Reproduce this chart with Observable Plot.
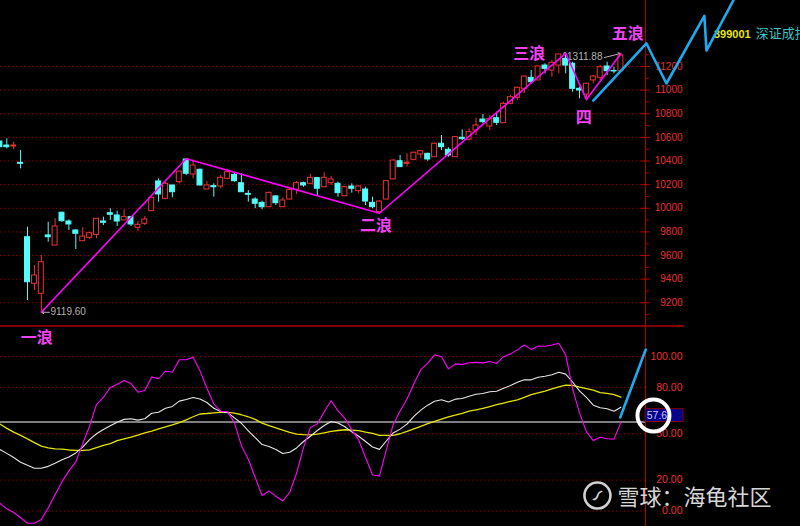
<!DOCTYPE html>
<html>
<head>
<meta charset="utf-8">
<script src="https://cdn.jsdelivr.net/npm/d3@7"></script>
<script src="https://cdn.jsdelivr.net/npm/@observablehq/plot@0.6"></script>
<style>
html, body { margin: 0; padding: 0; background: #000; }
#wrap { position: relative; width: 800px; height: 526px; background: #000; overflow: hidden; }
#legend { position: absolute; left: 714px; top: 23px; white-space: nowrap; line-height: 14px; }
#legend .code { color: #e8e800; font: bold 11px "Liberation Sans", Arial, sans-serif; }
#legend .name { color: #36c6c6; font: 13px "Noto Sans CJK SC", sans-serif; margin-left: 5px; }
#top, #bot { position: absolute; left: 0; }
#top { top: 0; }
#bot { top: 326px; }
svg { overflow: visible; }
</style>
</head>
<body>
<div id="wrap">
  <div id="legend"><span class="code">399001</span><span class="name">深证成指</span></div>
  <div id="top"></div>
  <div id="bot"></div>
</div>
<script>
// ---------------- data ----------------
const opens = [10565,10531,10523,10385,9755,9361,9276,9770,9685,9962,
  9888,9812,9721,9750,9775,9888,9958,9939,9897,9925,
  9835,9869,9975,10227,10080,10193,10221,10413,10286,10326,
  10159,10187,10184,10249,10283,10212,10122,10074,10046,10009,
  10100,10009,10074,10156,10212,10207,10255,10178,10212,10207,
  10102,10184,10145,10159,10046,9967,10074,10244,10398,10376,
  10410,10455,10461,10432,10546,10495,10432,10597,10580,10658,
  10751,10692,10762,10720,10884,10935,11011,11104,11082,11208,
  11166,11208,11265,11223,11011,10963,11082,11104,11200,11162,
  11160];
const closes = [10517,10517,10531,10376,9374,9431,9543,9755,9846,9891,
  9863,9784,9761,9789,9911,9877,9945,9888,9925,9863,
  9860,9905,10089,10117,10207,10136,10311,10292,10362,10193,
  10193,10178,10258,10305,10229,10136,10114,10038,10009,10131,
  10043,10066,10156,10212,10193,10258,10165,10258,10244,10128,
  10178,10165,10184,10057,10009,10057,10229,10404,10348,10385,
  10470,10483,10413,10546,10517,10447,10602,10585,10644,10701,
  10729,10757,10723,10884,10940,11020,11115,11067,11200,11180,
  11231,11302,11208,11011,10997,11054,11115,11194,11160,11158,
  11293];
const highs = [10565,10588,10559,10489,9840,9516,9600,9882,9911,9967,
  9902,9818,9835,9798,9911,9925,9996,9975,9987,9930,
  9888,9930,10089,10249,10221,10193,10311,10419,10410,10330,
  10227,10207,10277,10326,10305,10292,10150,10089,10060,10136,
  10108,10089,10165,10227,10221,10286,10258,10300,10269,10221,
  10178,10207,10193,10178,10094,10066,10235,10410,10447,10461,
  10475,10489,10466,10551,10616,10512,10602,10664,10673,10762,
  10794,10785,10813,10898,10955,11025,11115,11166,11200,11223,
  11251,11302,11311.88,11236,11025,11054,11124,11208,11236,11194,
  11307];
const lows = [10514,10503,10495,10334,9219,9304,9119.6,9713,9685,9882,
  9812,9651,9721,9736,9742,9854,9897,9846,9897,9846,
  9803,9854,9975,10051,10072,10089,10207,10277,10249,10190,
  10159,10094,10165,10241,10221,10136,10051,9996,9987,10009,
  10023,10009,10072,10117,10178,10201,10100,10178,10193,10094,
  10102,10128,10122,10023,9996,9958,10072,10241,10348,10348,
  10404,10419,10398,10432,10489,10432,10432,10574,10568,10616,
  10715,10658,10701,10720,10876,10912,10969,11054,11082,11138,
  11109,11138,11138,10982,10927,10920,11054,11082,11124,11138,
  11152];

// indicator panel (one value per candle)
const jLine = [5,1.4,-1,-4.4,-7.9,-7.9,-5.5,2,10.6,19,
  26,31.8,43.5,55,69,73.5,80,82,84.5,82.5,
  76.9,78,86.8,85.6,90.5,89.8,97.9,97.9,99.5,90.7,
  79.5,69.4,64.6,64.3,57,42.3,33.5,21.7,10,13,
  9.5,6.5,12,24.6,41,54,56.4,64.2,71.4,64.8,
  60,52.5,46,34.6,23.5,22.5,39.5,56,64.7,72.5,
  82.4,91.5,95.7,101.1,99.9,92,95.2,94.9,96,96.2,
  95.9,96.8,95.5,99.9,101.7,104.3,107.4,104.6,106.7,106.6,
  107.4,108.6,101,79,63.5,51.4,45.6,47.7,46.8,46.5,
  57.5];
const kLine = [39.8,37.3,34.6,31.6,29.6,27.7,27.7,28.9,30.9,33.1,
  34.9,37.6,41.3,46.2,50.0,52.8,55.2,57.5,59.3,59.7,
  58.8,59.7,63.3,63.9,66.5,67.7,71.1,72.2,73.5,72.5,
  70.2,66.5,64.4,63.7,60.3,56.8,51.9,47.5,43.0,41.7,
  39.8,37.2,38.0,40.8,45.0,48.4,52.1,55.3,57.9,57.0,
  54.5,51.2,48.4,45.0,41.4,39.9,45.3,50.5,53.0,56.2,
  61.3,65.3,68.5,71.0,72.0,70.6,72.4,72.8,74.3,75.6,
  76.1,77.2,77.5,79.5,81.2,83.3,84.9,84.9,86.6,87.2,
  88.2,89.8,88.6,83.5,77.7,73.5,68.5,66.8,66.2,64.6,
  67.2];
const dLine = [56.3,53.5,51.1,48.9,46.7,44.3,42.0,40.9,40.2,40.0,
  39.5,39.3,39.3,39.6,41.0,42.5,43.6,45.6,46.7,47.8,
  49.1,50.6,51.7,53.2,54.4,55.8,57.2,59.0,61.0,62.8,
  63.1,63.5,63.9,63.9,63.3,62.3,61.0,59.3,56.9,55.3,
  53.8,52.3,50.9,49.8,49.4,49.3,49.8,50.6,51.5,52.1,
  52.6,52.3,52.0,51.0,50.2,49.0,48.9,49.0,50.0,51.5,
  53.2,54.8,56.5,58.0,59.5,60.9,62.0,63.2,64.6,65.5,
  66.5,67.6,68.8,69.9,71.0,72.0,73.5,75.3,76.5,77.6,
  79.0,80.4,81.5,81.3,80.2,79.2,78.2,76.6,76.2,75.3,
  73.7];
const refValue = 57.6;

// tick labels
const priceTicks = [9200,9400,9600,9800,10000,10200,10400,10600,10800,11000,11200];
const priceMinorTicks = [9100,9300,9500,9700,9900,10100,10300,10500,10700,10900,11100,11300];
const indTicks = [100,80,50,20,0];

// wave annotation (hand-drawn)
const waveIdx = [6,27,55,82,85,90];
const wavePrice = [9119.6,10419,9958,11311.88,10920,11307];
const waveLabels = ["一浪","二浪","三浪","四","五浪"];
const waveLabelIdx = [5.33,54.5,76.7,84.6,91.0];
const waveLabelPrice = [8904,9847,11307,10768,11476];
// projected path (cyan)
const projIdx = [86.0,93.7,96.6,102.1,102.4,106.3];
const projPrice = [10912,11395,11056,11629,11335,11759];
const projIndIdx = [89.9,93.6];
const projIndValue = [60.5,104.5];
// extreme labels
const lowLabel = "9119.60", highLabel = "11311.88";

// ---------------- layout ----------------
const X_DOMAIN = [0.087, 116.03];     // candle index at left / right edge of the page
const PRICE_DOMAIN = [8999.3, 11758.6];
const IND_DOMAIN = [-10.03, 119.42];
const AXIS_IDX = 93.57;
const LABEL_IDX = 98.93;
const numFont = "'Liberation Sans', Arial, sans-serif";
const cjkFont = "'Noto Sans CJK SC', sans-serif";
const RED = "#f03434", CYAN = "#54fcfc", AXIS = "#b00000", GRID = "#8c0000";
const MAG = "#ff00ff", LBL = "#f044f0", PROJ = "#1eaaf0";

const candles = opens.map((o, i) => ({i, open: o, close: closes[i], high: highs[i], low: lows[i]}));
const up = candles.filter(d => d.close >= d.open);
const down = candles.filter(d => d.close < d.open);
const wave = waveIdx.map((x, k) => ({x, y: wavePrice[k]}));
const proj = projIdx.map((x, k) => ({x, y: projPrice[k]}));
const labels = waveLabels.map((t, k) => ({t, x: waveLabelIdx[k], y: waveLabelPrice[k]}));
const projInd = projIndIdx.map((x, k) => ({x, y: projIndValue[k]}));
const HW = 0.36;

const topPlot = Plot.plot({
  width: 800, height: 326, margin: 0,
  style: {background: "transparent", overflow: "visible"},
  x: {domain: X_DOMAIN, axis: null},
  y: {domain: PRICE_DOMAIN, axis: null},
  marks: [
    Plot.ruleY(priceTicks, {x1: X_DOMAIN[0], x2: AXIS_IDX, stroke: GRID, strokeDasharray: "1.5 2.5"}),
    Plot.ruleY([PRICE_DOMAIN[0]], {x1: X_DOMAIN[0], x2: 99.2, stroke: AXIS, strokeWidth: 1.5, dy: -0.5}),
    Plot.ruleX([AXIS_IDX], {stroke: AXIS}),
    Plot.ruleY(priceTicks, {x1: 92.99, x2: 94.29, stroke: AXIS}),
    Plot.ruleY(priceMinorTicks, {x1: AXIS_IDX, x2: 94.14, stroke: AXIS}),
    Plot.text(priceTicks, {x: LABEL_IDX, y: d => d, text: d => String(d), textAnchor: "end",
      fill: "#e83030", fontSize: 10, fontFamily: numFont}),
    Plot.text([lowLabel], {x: 7.33, y: 9119.6, text: d => d, textAnchor: "start",
      fill: "#b4b4b4", fontSize: 10, fontFamily: numFont}),
    Plot.text([highLabel], {x: 87.33, y: 11280, text: d => d, textAnchor: "end",
      fill: "#b4b4b4", fontSize: 10, fontFamily: numFont}),
    Plot.arrow([0], {x1: 7.19, y1: 9119.6, x2: 6.03, y2: 9119.6, stroke: "#b4b4b4", headLength: 4, strokeWidth: 1}),
    Plot.arrow([0], {x1: 87.62, y1: 11276, x2: 89.94, y2: 11310, stroke: "#b4b4b4", headLength: 4, strokeWidth: 1}),
    // candles
    Plot.ruleX(up, {x: "i", y1: "low", y2: "high", stroke: RED}),
    Plot.ruleX(down, {x: "i", y1: "low", y2: "high", stroke: CYAN}),
    Plot.rect(up, {x1: d => d.i - HW, x2: d => d.i + HW, y1: "open", y2: "close", fill: "#000", stroke: RED}),
    Plot.rect(down, {x1: d => d.i - HW, x2: d => d.i + HW, y1: "open", y2: "close", fill: CYAN, stroke: CYAN}),
    // wave annotation
    Plot.line(wave, {x: "x", y: "y", stroke: MAG, strokeWidth: 1.6}),
    Plot.text(labels, {x: "x", y: "y", text: "t", fill: LBL, fontSize: 16, fontWeight: "bold", fontFamily: cjkFont}),
    Plot.line(proj, {x: "x", y: "y", stroke: PROJ, strokeWidth: 2.6})
  ]
});
document.getElementById("top").appendChild(topPlot);

const botPlot = Plot.plot({
  width: 800, height: 200, margin: 0,
  style: {background: "transparent", overflow: "visible"},
  x: {domain: X_DOMAIN, axis: null},
  y: {domain: IND_DOMAIN, axis: null},
  marks: [
    Plot.ruleY(indTicks, {x1: X_DOMAIN[0], x2: AXIS_IDX, stroke: GRID, strokeDasharray: "1.5 2.5"}),
    Plot.ruleX([AXIS_IDX], {stroke: AXIS}),
    Plot.ruleY([refValue], {x1: X_DOMAIN[0], x2: AXIS_IDX, stroke: "#a8a8a8", strokeWidth: 1.5}),
    Plot.line(dLine, {x: (d, i) => i, y: d => d, stroke: "#e4e400", strokeWidth: 1.3}),
    Plot.line(kLine, {x: (d, i) => i, y: d => d, stroke: "#e6e6e6", strokeWidth: 1.1}),
    Plot.line(jLine, {x: (d, i) => i, y: d => d, stroke: MAG, strokeWidth: 1.1}),
    Plot.text(indTicks, {x: LABEL_IDX, y: d => d, text: d => d.toFixed(2), textAnchor: "end",
      fill: "#e83030", fontSize: 10.5, fontFamily: numFont}),
    Plot.rect([refValue], {x1: AXIS_IDX, x2: 99.07, y1: d => d, y2: 65.9, fill: "#00008c", stroke: "#8c0000"}),
    Plot.text([refValue], {x: 93.75, y: 61.7, text: d => String(d), textAnchor: "start",
      fill: "#c8c8ff", fontSize: 10.5, fontFamily: numFont}),
    Plot.dot([refValue], {x: 94.72, y: 61.8, r: 16, stroke: "#ffffff", strokeWidth: 4, fill: "none"}),
    Plot.line(projInd, {x: "x", y: "y", stroke: PROJ, strokeWidth: 2.6}),
    // watermark
    Plot.dot([0], {x: 86.6, y: 10.0, r: 13, stroke: "#d0d0d0", strokeWidth: 2.6, fill: "none"}),
    Plot.text(["∽"], {x: 86.6, y: 10.0, text: d => d, rotate: -50, fill: "#d0d0d0", fontSize: 20, fontFamily: "DejaVu Sans"}),
    Plot.text(["雪球：海龟社区"], {x: 89.5, y: 8.7, text: d => d, textAnchor: "start",
      fill: "#d6d6d6", fontSize: 22, fontFamily: cjkFont})
  ]
});
document.getElementById("bot").appendChild(botPlot);
</script>
</body>
</html>
